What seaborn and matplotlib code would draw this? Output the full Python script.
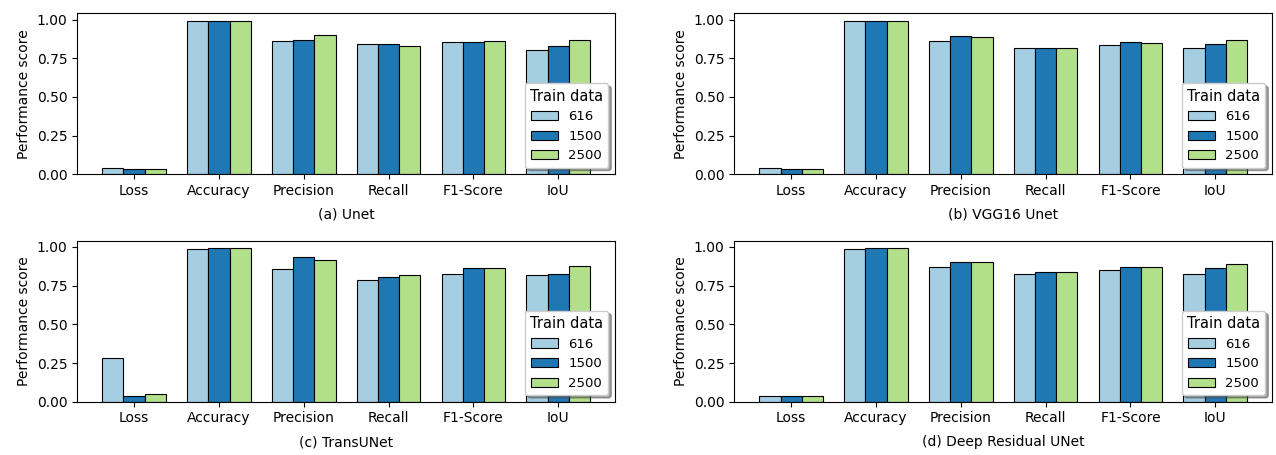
import matplotlib
matplotlib.use("Agg")
import matplotlib.pyplot as plt
import seaborn as sns
import pandas as pd

metrics = ["Loss", "Accuracy", "Precision", "Recall", "F1-Score", "IoU"]
train_sizes = ["616", "1500", "2500"]
colors = ["#a6cee3", "#1f78b4", "#b2df8a"]

titles = ["(a) Unet", "(b) VGG16 Unet", "(c) TransUNet", "(d) Deep Residual UNet"]

unet_616 = [0.038, 0.991, 0.862, 0.841, 0.853, 0.806]
unet_1500 = [0.036, 0.991, 0.871, 0.845, 0.858, 0.832]
unet_2500 = [0.036, 0.991, 0.901, 0.828, 0.862, 0.866]

vgg_616 = [0.039, 0.990, 0.862, 0.817, 0.838, 0.817]
vgg_1500 = [0.034, 0.991, 0.897, 0.817, 0.856, 0.845]
vgg_2500 = [0.034, 0.990, 0.888, 0.817, 0.851, 0.866]

trans_616 = [0.284, 0.987, 0.860, 0.789, 0.823, 0.817]
trans_1500 = [0.034, 0.991, 0.935, 0.804, 0.866, 0.828]
trans_2500 = [0.047, 0.991, 0.916, 0.817, 0.862, 0.875]

res_616 = [0.039, 0.989, 0.873, 0.823, 0.849, 0.825]
res_1500 = [0.034, 0.991, 0.905, 0.836, 0.869, 0.864]
res_2500 = [0.034, 0.991, 0.905, 0.836, 0.869, 0.890]

models = [
    [unet_616, unet_1500, unet_2500],
    [vgg_616, vgg_1500, vgg_2500],
    [trans_616, trans_1500, trans_2500],
    [res_616, res_1500, res_2500],
]

fig, axes = plt.subplots(2, 2, figsize=(12.76, 4.55), dpi=100)
fig.subplots_adjust(left=0.0606, right=0.9969, top=0.9708, bottom=0.1171,
                    wspace=0.222, hspace=0.412)

for ax, title, series in zip(axes.flat, titles, models):
    rows = []
    for size, vals in zip(train_sizes, series):
        for m, v in zip(metrics, vals):
            rows.append({"metric": m, "score": v, "train": size})
    df = pd.DataFrame(rows)
    sns.barplot(data=df, x="metric", y="score", hue="train",
                order=metrics, hue_order=train_sizes, palette=colors,
                saturation=1, width=0.75, edgecolor="black", linewidth=0.8,
                errorbar=None, ax=ax)
    ax.set_xlim(-0.669, 5.669)
    ax.set_xlabel(title, fontsize=10, labelpad=7)
    ax.set_ylabel("Performance score", fontsize=10)
    ax.tick_params(labelsize=10)
    sns.move_legend(ax, "lower right", title="Train data", shadow=True,
                    fontsize=9.5, title_fontsize=10.5)

fig.savefig("out.png", dpi=100)
